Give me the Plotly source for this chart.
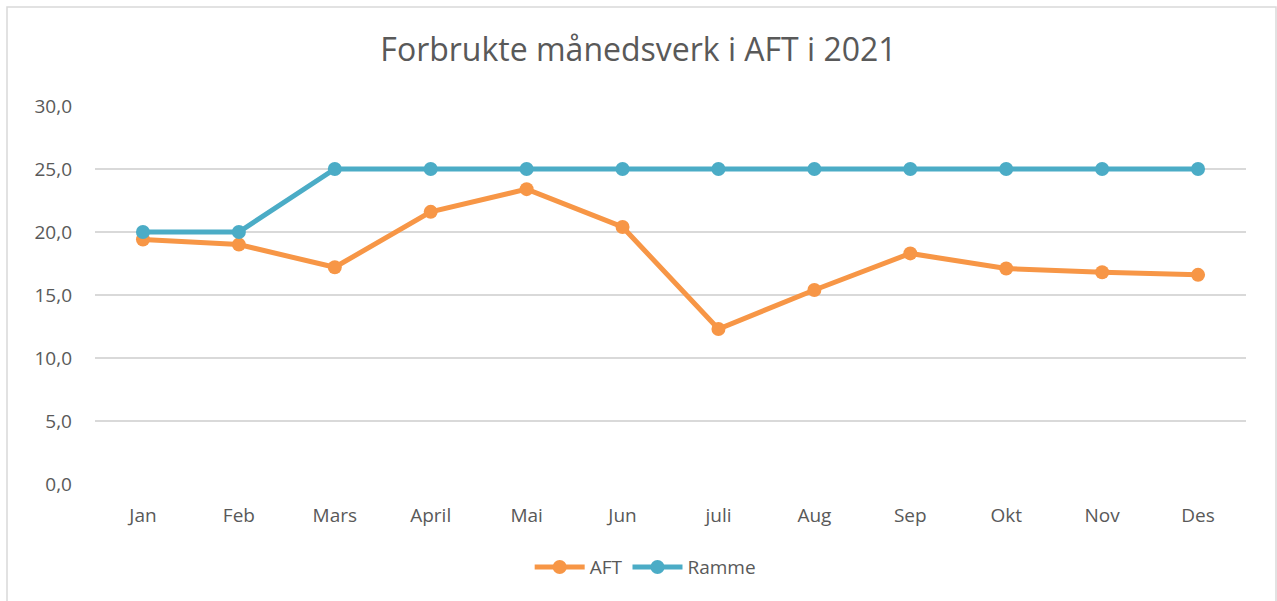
import plotly.graph_objects as go

months = ["Jan", "Feb", "Mars", "April", "Mai", "Jun", "juli", "Aug", "Sep", "Okt", "Nov", "Des"]
aft = [19.4, 19.0, 17.2, 21.6, 23.4, 20.4, 12.3, 15.4, 18.3, 17.1, 16.8, 16.6]
ramme = [20, 20, 25, 25, 25, 25, 25, 25, 25, 25, 25, 25]

fig = go.Figure()
fig.add_trace(go.Scatter(x=months, y=aft, name="AFT", mode="lines+markers",
                         line=dict(color="#F79646", width=5),
                         marker=dict(size=14, color="#F79646")))
fig.add_trace(go.Scatter(x=months, y=ramme, name="Ramme", mode="lines+markers",
                         line=dict(color="#4BACC6", width=5),
                         marker=dict(size=14, color="#4BACC6")))

fig.update_yaxes(range=[0, 30], dtick=5, tickformat=".1f", showgrid=True,
                 gridcolor="#D9D9D9", gridwidth=1.5, zeroline=False,
                 ticklabelstandoff=22, fixedrange=True)
fig.update_xaxes(type="category", range=[-0.5, 11.5], showgrid=False,
                 showline=False, zeroline=False, ticklabelstandoff=18)

# frame round the chart
fig.add_shape(type="rect", xref="paper", yref="paper",
              x0=(7 - 95) / 1151, x1=(1276 - 95) / 1151,
              y0=(484 - 610) / 378, y1=(484 - 7) / 378,
              line=dict(color="#D9D9D9", width=1.5), layer="below")

fig.update_layout(
    width=1277, height=601,
    separators=",.",
    plot_bgcolor="white", paper_bgcolor="white",
    font=dict(family="Open Sans", size=19, color="#595959"),
    title=dict(text="Forbrukte månedsverk i AFT i 2021", x=0.5, xanchor="center",
               y=0.917, yanchor="middle", font=dict(size=32, color="#595959")),
    margin=dict(l=95, r=31, t=106, b=117),
    showlegend=True,
    legend=dict(orientation="h", x=0.478, xanchor="center", y=-0.22, yanchor="middle",
                font=dict(size=19), itemwidth=50),
)

fig.write_html("out.html", config={"displayModeBar": False},
               post_script="document.body.style.margin='0';")
